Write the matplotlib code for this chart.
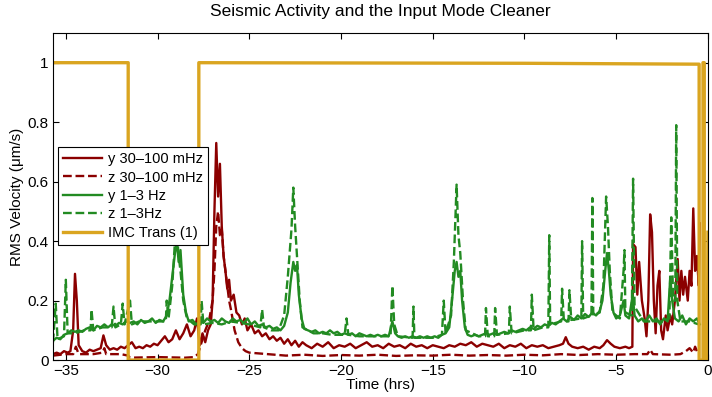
import numpy as np
import matplotlib
matplotlib.use("Agg")
import matplotlib.pyplot as plt
from matplotlib.ticker import FuncFormatter

plt.rcParams["font.family"] = ["Liberation Sans", "DejaVu Sans"]

# y 30-100 mHz (solid dark red)
ry_t = [-35.7, -35.5, -35.3, -35.1, -34.9, -34.75, -34.6, -34.5, -34.4, -34.3, -34.1, -33.9,
        -33.7, -33.5, -33.3, -33.1, -32.95, -32.8, -32.6, -32.4, -32.2, -32.0, -31.8, -31.6,
        -31.4, -31.2, -31.0, -30.8, -30.6, -30.4, -30.2, -30.0, -29.8, -29.6, -29.4, -29.2,
        -29.0, -28.8, -28.6, -28.4, -28.2, -28.0, -27.85, -27.7, -27.55, -27.4, -27.25, -27.1,
        -27.0, -26.9, -26.8, -26.7, -26.6, -26.5, -26.4, -26.3, -26.2, -26.1, -26.0, -25.85,
        -25.7, -25.55, -25.4, -25.25, -25.1, -24.9, -24.7, -24.5, -24.3, -24.1, -23.9, -23.7,
        -23.5, -23.3, -23.1, -22.9, -22.7, -22.5, -22.3, -22.1, -21.9, -21.6, -21.3, -21.0,
        -20.7, -20.4, -20.1, -19.8, -19.5, -19.2, -18.9, -18.6, -18.3, -18.0, -17.7, -17.4,
        -17.1, -16.8, -16.5, -16.2, -15.9, -15.6, -15.3, -15.0, -14.7, -14.4, -14.1, -13.8,
        -13.5, -13.2, -12.9, -12.6, -12.3, -12.0, -11.7, -11.4, -11.1, -10.8, -10.5, -10.2,
        -9.9, -9.6, -9.3, -9.0, -8.7, -8.4, -8.1, -7.9, -7.75, -7.6, -7.4, -7.1, -6.8, -6.5,
        -6.2, -5.9, -5.7, -5.5, -5.3, -5.1, -4.8, -4.5, -4.3, -4.12, -4.08, -3.95, -3.85,
        -3.75, -3.6, -3.45, -3.35, -3.25, -3.15, -3.05, -2.95, -2.85, -2.75, -2.65, -2.55,
        -2.45, -2.3, -2.2, -2.05, -1.95, -1.8, -1.65, -1.55, -1.45, -1.35, -1.25, -1.1, -1.0,
        -0.9, -0.8, -0.7, -0.6, -0.5, -0.45]
ry_v = [0.02, 0.025, 0.02, 0.03, 0.025, 0.03, 0.1, 0.29, 0.2, 0.05, 0.03, 0.025,
        0.035, 0.03, 0.035, 0.04, 0.083, 0.05, 0.035, 0.04, 0.035, 0.045, 0.04, 0.05,
        0.06, 0.04, 0.045, 0.04, 0.05, 0.045, 0.055, 0.05, 0.065, 0.08, 0.06, 0.07,
        0.1, 0.07, 0.09, 0.12, 0.08, 0.1, 0.14, 0.05, 0.09, 0.06, 0.1, 0.12,
        0.2, 0.5, 0.73, 0.55, 0.66, 0.45, 0.35, 0.3, 0.24, 0.27, 0.2, 0.22,
        0.16, 0.15, 0.12, 0.14, 0.1, 0.12, 0.09, 0.1, 0.08, 0.09, 0.07, 0.08,
        0.065, 0.075, 0.055, 0.07, 0.05, 0.065, 0.045, 0.06, 0.05, 0.04, 0.055, 0.045,
        0.06, 0.04, 0.05, 0.045, 0.055, 0.04, 0.05, 0.06, 0.045, 0.05, 0.04, 0.055,
        0.045, 0.05, 0.04, 0.055, 0.045, 0.05, 0.04, 0.05, 0.045, 0.04, 0.05, 0.045,
        0.055, 0.05, 0.06, 0.045, 0.055, 0.05, 0.045, 0.055, 0.04, 0.05, 0.045, 0.055,
        0.04, 0.05, 0.045, 0.05, 0.04, 0.045, 0.05, 0.055, 0.077, 0.055, 0.045, 0.04, 0.045, 0.035,
        0.045, 0.04, 0.05, 0.067, 0.055, 0.045, 0.04, 0.045, 0.04, 0.045, 0.39, 0.38, 0.22,
        0.33, 0.2, 0.14, 0.08, 0.2, 0.49, 0.43, 0.2, 0.09, 0.25, 0.3, 0.1,
        0.07, 0.15, 0.1, 0.15, 0.12, 0.2, 0.34, 0.2, 0.3, 0.22, 0.28, 0.2, 0.3,
        0.25, 0.51, 0.3, 0.35, 0.25, 0.46]

# z 30-100 mHz (dashed dark red)
rz_t = [-35.7, -35.0, -34.6, -34.45, -34.3, -33.5, -33.0, -32.9, -32.8, -32.0, -31.6, -31.5,
        -30.0, -28.5, -28.0, -27.8, -27.6, -27.4, -27.2, -27.0, -26.9, -26.8, -26.7, -26.6,
        -26.5, -26.4, -26.3, -26.2, -26.1, -26.0, -25.8, -25.6, -25.4, -25.2, -25.0, -24.0,
        -23.0, -22.0, -21.0, -20.0, -19.0, -18.0, -17.0, -16.0, -15.0, -14.0, -13.0, -12.0,
        -11.0, -10.0, -9.0, -8.0, -7.0, -6.0, -5.0, -4.0, -3.3, -3.15, -3.0, -2.0, -1.5,
        -1.2, -1.0, -0.8, -0.7, -0.6, -0.5]
rz_v = [0.015, 0.02, 0.02, 0.045, 0.02, 0.02, 0.025, 0.04, 0.02, 0.02, 0.015, 0.008,
        0.01, 0.008, 0.01, 0.02, 0.06, 0.1, 0.13, 0.2, 0.3, 0.45, 0.5, 0.42,
        0.44, 0.35, 0.3, 0.25, 0.2, 0.17, 0.1, 0.06, 0.04, 0.03, 0.025, 0.02,
        0.015, 0.018, 0.014, 0.017, 0.015, 0.018, 0.014, 0.016, 0.015, 0.018, 0.015, 0.017,
        0.015, 0.018, 0.016, 0.02, 0.017, 0.02, 0.018, 0.02, 0.02, 0.035, 0.02, 0.018, 0.02,
        0.03, 0.04, 0.025, 0.045, 0.03, 0.02]

# y 1-3 Hz (solid green)
gy_t = [-35.7, -35.5, -35.3, -35.1, -34.9, -34.7, -34.5, -34.3, -34.1, -33.9, -33.7, -33.5,
        -33.3, -33.1, -32.9, -32.7, -32.5, -32.3, -32.1, -31.9, -31.7, -31.5, -31.3, -31.1,
        -30.9, -30.7, -30.5, -30.3, -30.1, -29.9, -29.7, -29.5, -29.35, -29.2, -29.05, -28.95,
        -28.85, -28.75, -28.6, -28.45, -28.3, -28.1, -27.9, -27.7, -27.5, -27.3, -27.1, -26.9,
        -26.7, -26.5, -26.3, -26.1, -25.9, -25.7, -25.5, -25.3, -25.1, -24.9, -24.7, -24.5,
        -24.3, -24.1, -23.9, -23.7, -23.5, -23.3, -23.1, -22.9, -22.75, -22.6, -22.5, -22.4,
        -22.3, -22.15, -22.0, -21.8, -21.6, -21.4, -21.2, -21.0, -20.8, -20.6, -20.4, -20.2,
        -20.0, -19.8, -19.6, -19.4, -19.2, -19.0, -18.8, -18.6, -18.4, -18.2, -18.0, -17.8,
        -17.6, -17.4, -17.2, -17.05, -16.9, -16.7, -16.5, -16.3, -16.1, -15.9, -15.7, -15.5,
        -15.3, -15.1, -14.9, -14.7, -14.5, -14.3, -14.1, -13.95, -13.8, -13.7, -13.6, -13.5,
        -13.4, -13.25, -13.1, -12.9, -12.7, -12.5, -12.3, -12.1, -11.9, -11.7, -11.5, -11.3,
        -11.1, -10.9, -10.7, -10.5, -10.3, -10.1, -9.9, -9.7, -9.5, -9.3, -9.1, -8.9, -8.7,
        -8.5, -8.3, -8.1, -7.9, -7.7, -7.5, -7.3, -7.1, -6.9, -6.7, -6.5, -6.3, -6.1, -5.9,
        -5.75, -5.6, -5.5, -5.4, -5.3, -5.15, -5.0, -4.8, -4.6, -4.5, -4.3, -4.1, -4.0, -3.8,
        -3.6, -3.4, -3.2, -3.0, -2.8, -2.6, -2.4, -2.2, -2.05, -1.95, -1.8, -1.6, -1.4, -1.2,
        -1.0, -0.8, -0.6, -0.45]
gy_v = [0.065, 0.075, 0.07, 0.085, 0.09, 0.1, 0.095, 0.1, 0.095, 0.105, 0.11, 0.1,
        0.115, 0.11, 0.12, 0.11, 0.12, 0.115, 0.125, 0.12, 0.13, 0.125, 0.13, 0.12,
        0.135, 0.125, 0.13, 0.14, 0.125, 0.135, 0.13, 0.15, 0.2, 0.28, 0.36, 0.4,
        0.33, 0.37, 0.22, 0.16, 0.13, 0.135, 0.12, 0.13, 0.125, 0.14, 0.13, 0.135,
        0.125, 0.14, 0.13, 0.125, 0.14, 0.13, 0.135, 0.125, 0.14, 0.12, 0.13, 0.115,
        0.12, 0.11, 0.115, 0.105, 0.11, 0.1, 0.115, 0.16, 0.26, 0.33, 0.3, 0.32,
        0.22, 0.14, 0.105, 0.1, 0.095, 0.1, 0.09, 0.095, 0.09, 0.1, 0.09, 0.095,
        0.085, 0.09, 0.085, 0.09, 0.08, 0.09, 0.085, 0.08, 0.085, 0.08, 0.085, 0.08,
        0.085, 0.08, 0.13, 0.09, 0.08, 0.075, 0.08, 0.075, 0.08, 0.075, 0.08, 0.075,
        0.08, 0.075, 0.08, 0.075, 0.085, 0.09, 0.11, 0.2, 0.3, 0.33, 0.28, 0.3,
        0.2, 0.11, 0.085, 0.08, 0.085, 0.08, 0.085, 0.09, 0.085, 0.09, 0.085, 0.09,
        0.095, 0.09, 0.1, 0.095, 0.1, 0.105, 0.1, 0.11, 0.105, 0.115, 0.11, 0.12, 0.115,
        0.125, 0.12, 0.13, 0.14, 0.13, 0.145, 0.135, 0.15, 0.14, 0.155, 0.145, 0.16, 0.15, 0.165,
        0.2, 0.3, 0.36, 0.3, 0.22, 0.16, 0.14, 0.15, 0.2, 0.15, 0.14, 0.22, 0.15, 0.13,
        0.14, 0.13, 0.15, 0.13, 0.14, 0.12, 0.14, 0.13, 0.28, 0.2, 0.14, 0.13, 0.15, 0.12,
        0.14, 0.13, 0.14, 0.12]

# z 1-3 Hz (dashed green)
gz_t = [-35.7, -35.55, -35.45, -35.1, -35.0, -34.9, -34.5, -34.0, -33.65, -33.6, -33.5, -33.0,
        -32.5, -32.4, -32.3, -32.0, -31.9, -31.8, -31.5, -31.4, -31.0, -30.5, -30.0, -29.55,
        -29.5, -29.4, -29.2, -29.05, -28.95, -28.85, -28.75, -28.6, -28.4, -28.0, -27.65, -27.6,
        -27.5, -27.0, -26.5, -26.0, -25.5, -25.0, -24.4, -24.3, -24.2, -23.8, -23.4, -23.1,
        -22.9, -22.7, -22.6, -22.5, -22.4, -22.25, -22.1, -21.5, -21.0, -20.5, -20.0, -19.8,
        -19.7, -19.6, -19.0, -18.5, -18.0, -17.3, -17.2, -17.1, -16.9, -16.1, -16.05, -16.0,
        -15.5, -15.0, -14.5, -14.4, -14.3, -14.0, -13.85, -13.7, -13.6, -13.5, -13.35, -13.2,
        -12.5, -12.15, -12.1, -12.0, -11.65, -11.6, -11.5, -10.85, -10.8, -10.7, -10.0, -9.65,
        -9.6, -9.5, -9.0, -8.7, -8.65, -8.6, -8.0, -7.95, -7.85, -7.6, -7.55, -7.45,
        -6.9, -6.86, -6.8, -6.35, -6.3, -6.25, -5.9, -5.7, -5.55, -5.45, -5.35, -5.2,
        -4.8, -4.6, -4.55, -4.5, -4.15, -4.08, -4.0, -3.5, -3.0, -2.5, -2.1, -2.0,
        -1.9, -1.78, -1.73, -1.67, -1.5, -1.0, -0.5]
gz_v = [0.06, 0.19, 0.07, 0.08, 0.27, 0.09, 0.09, 0.1, 0.1, 0.17, 0.1, 0.11,
        0.11, 0.18, 0.11, 0.12, 0.19, 0.12, 0.2, 0.12, 0.13, 0.13, 0.13, 0.13,
        0.2, 0.14, 0.25, 0.4, 0.43, 0.35, 0.3, 0.2, 0.14, 0.12, 0.12, 0.2,
        0.12, 0.125, 0.12, 0.13, 0.125, 0.12, 0.11, 0.17, 0.11, 0.1, 0.1, 0.15,
        0.28, 0.44, 0.58, 0.45, 0.35, 0.2, 0.11, 0.09, 0.09, 0.085, 0.085, 0.085,
        0.14, 0.085, 0.08, 0.08, 0.08, 0.08, 0.25, 0.12, 0.08, 0.075, 0.18, 0.075,
        0.075, 0.075, 0.085, 0.2, 0.09, 0.15, 0.33, 0.59, 0.42, 0.36, 0.2, 0.1,
        0.08, 0.08, 0.175, 0.08, 0.08, 0.175, 0.085, 0.09, 0.18, 0.09, 0.1, 0.1,
        0.22, 0.1, 0.11, 0.11, 0.42, 0.12, 0.13, 0.24, 0.13, 0.13, 0.235, 0.135,
        0.14, 0.4, 0.14, 0.15, 0.545, 0.15, 0.16, 0.25, 0.55, 0.45, 0.3, 0.16,
        0.14, 0.3, 0.37, 0.16, 0.15, 0.61, 0.18, 0.13, 0.13, 0.13, 0.14, 0.48,
        0.2, 0.2, 0.79, 0.2, 0.13, 0.13, 0.12]

# IMC transmission (normalised)
imc_t = [-35.7, -31.6, -31.6, -27.75, -27.75, -10.0, -0.48, -0.48, -0.27, -0.27, -0.2, -0.2, -0.03, 0.0]
imc_v = [1.0, 1.0, 0.0, 0.0, 1.0, 0.998, 0.995, 0.0, 0.0, 1.0, 1.0, 0.0, 0.0, 0.43]

red = "#8b0000"
green = "#228b22"
gold = "#daa520"

fig = plt.figure(figsize=(7.12, 3.97), dpi=100)
ax = fig.add_axes([0.0744, 0.093, 0.9199, 0.824])

ax.plot(ry_t, ry_v, color=red, lw=1.7, label="y 30\u2013100 mHz")
ax.plot(rz_t, rz_v, color=red, lw=1.7, ls="--", label="z 30\u2013100 mHz")
ax.plot(gy_t, gy_v, color=green, lw=1.7, label="y 1\u20133 Hz")
ax.plot(gz_t, gz_v, color=green, lw=1.7, ls="--", label="z 1\u20133Hz")
ax.plot(imc_t, imc_v, color=gold, lw=2.4, label="IMC Trans (1)")

ax.set_xlim(-35.7, 0)
ax.set_ylim(0, 1.1)
ax.set_xticks([-35, -30, -25, -20, -15, -10, -5, 0])
ax.set_yticks([0, 0.2, 0.4, 0.6, 0.8, 1.0])
ax.yaxis.set_major_formatter(FuncFormatter(lambda v, p: "%g" % v))
ax.tick_params(direction="in", top=True, right=True, labelsize=11, length=4, width=0.8, pad=3)
for s in ax.spines.values():
    s.set_linewidth(0.8)

ax.set_title("Seismic Activity and the Input Mode Cleaner", fontsize=12.5, pad=12)
ax.set_xlabel("Time (hrs)", fontsize=11, labelpad=0)
ax.set_ylabel("RMS Velocity (\u03bcm/s)", fontsize=11, labelpad=3)

leg = ax.legend(loc="upper left", bbox_to_anchor=(0.0076, 0.651), borderaxespad=0,
                fontsize=10.5, handlelength=2.7, labelspacing=0.3, handletextpad=0.35,
                borderpad=0.35, fancybox=False, framealpha=1, edgecolor="black")
leg.get_frame().set_linewidth(0.8)

plt.savefig("out.png", dpi=100)
